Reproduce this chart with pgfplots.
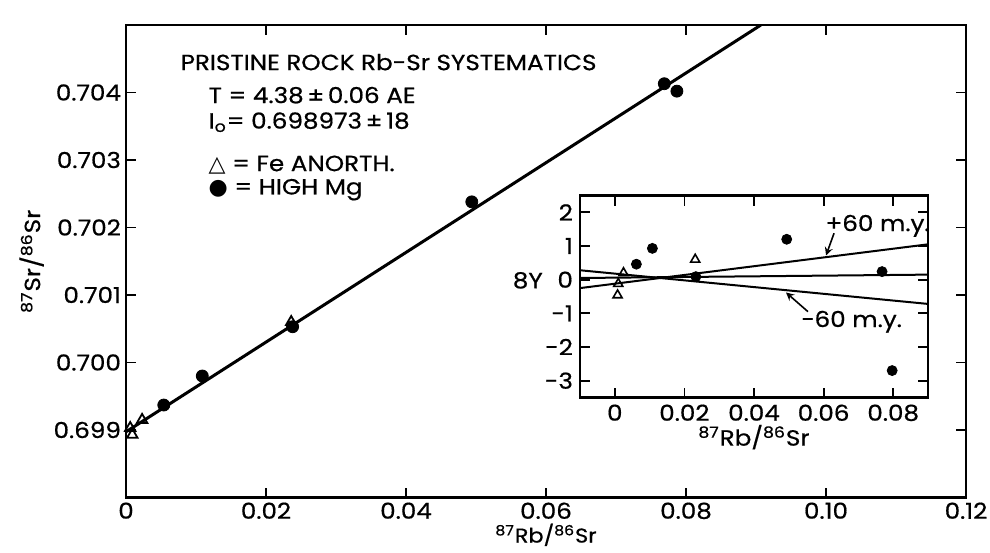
\documentclass[border=0pt]{standalone}
\usepackage{fontspec}
\setmainfont[FakeStretch=1.12, FakeBold=0.6]{Poppins}
\newfontfamily\sym{DejaVu Sans}
\usepackage{pgfplots}
\pgfplotsset{compat=1.18}

\begin{document}
\begin{tikzpicture}[font=\fontsize{11}{13}\selectfont]
\useasboundingbox (-63pt,-27.5pt) rectangle (432pt,248.75pt);
\begin{axis}[
    name=main,
    scale only axis,
    width=420pt, height=236.25pt,
    xmin=0, xmax=0.12, ymin=0.698, ymax=0.705,
    xtick={0,0.02,0.04,0.06,0.08,0.10,0.12},
    xticklabels={0,0.02,0.04,0.06,0.08,0.10,0.12},
    ytick={0.699,0.700,0.701,0.702,0.703,0.704},
    yticklabels={0.699,0.700,0.701,0.702,0.703,0.704},
    tick align=inside,
    major tick length=5pt,
    tick style={black, line width=0.9pt},
    axis line style={line width=1.2pt},
    xticklabel style={yshift=1pt},
    yticklabel style={xshift=1pt},
    xlabel={\textsuperscript{87}Rb/\textsuperscript{86}Sr},
    ylabel={\textsuperscript{87}Sr/\textsuperscript{86}Sr},
    xlabel style={at={(axis description cs:0.5,-0.079)}, anchor=center,
        font=\fontsize{10}{12}\selectfont},
    ylabel style={yshift=-2pt},
]
% isochron
\addplot[black, line width=1.5pt] coordinates {(0,0.698973) (0.0907,0.705)};
% Fe anorthosites
\addplot[only marks, mark=triangle, mark size=3pt, black, line width=0.9pt,
    mark options={fill=white}] coordinates {
    (0.0006,0.69903) (0.0009,0.69893) (0.0023,0.69915) (0.0236,0.70060)
};
% high Mg
\addplot[only marks, mark=*, mark size=3pt, black] coordinates {
    (0.0054,0.69937) (0.0109,0.69980) (0.0238,0.70053) (0.0494,0.70238)
    (0.0769,0.70413) (0.0787,0.70402)
};
\node[anchor=west] at (axis cs:0.0068,0.70445) {PRISTINE ROCK Rb-Sr SYSTEMATICS};
\node[anchor=west] at (axis cs:0.0108,0.70396) {T = 4.38\,±\,0.06 AE};
\node[anchor=west] at (axis cs:0.0108,0.70356) {I\textsubscript{o}= 0.698973\,±\,18};
\node[anchor=west] at (axis cs:0.0108,0.70293) {{\sym △} = Fe ANORTH.};
\node[anchor=west] at (axis cs:0.0108,0.70256) {{\sym ●} = HIGH Mg};
\end{axis}

\begin{axis}[
    name=inset,
    at={(227pt,50pt)}, anchor=south west,
    scale only axis,
    width=174pt, height=101pt,
    xmin=-0.01, xmax=0.09, ymin=-3.5, ymax=2.5,
    axis background/.style={fill=white},
    scaled x ticks=false,
    xtick={0,0.02,0.04,0.06,0.08},
    xticklabels={0,0.02,0.04,0.06,0.08},
    ytick={-3,-2,-1,0,1,2},
    yticklabels={-3,-2,-1,0,1,2},
    tick align=inside,
    major tick length=5pt,
    tick style={black, line width=0.9pt},
    axis line style={line width=1.2pt},
    xlabel={\textsuperscript{87}Rb/\textsuperscript{86}Sr},
    xlabel style={yshift=5pt},
    ylabel={8Y},
    ylabel style={rotate=-90, at={(axis description cs:-0.15,0.58)}, anchor=center},
    clip=false,
]
% reference line and +/-60 m.y. lines
\addplot[black, line width=1pt] coordinates {(-0.01,0.05) (0.09,0.15)};
\addplot[black, line width=1pt] coordinates {(-0.01,-0.25) (0.09,1.05)};
\addplot[black, line width=1pt] coordinates {(-0.01,0.28) (0.09,-0.72)};
\addplot[only marks, mark=triangle, mark size=2.6pt, black, line width=0.8pt,
    mark options={fill=white}] coordinates {
    (0.0025,0.2) (0.0010,-0.12) (0.0008,-0.46) (0.0231,0.6)
};
\addplot[only marks, mark=*, mark size=2.5pt, black] coordinates {
    (0.0062,0.46) (0.0108,0.93) (0.0233,0.09) (0.0494,1.2)
    (0.0768,0.24) (0.0797,-2.7)
};
\node at (axis cs:0.0755,1.6) {+60 m.y.};
\node at (axis cs:0.068,-1.25) {−60 m.y.};
\draw[black, line width=0.8pt, -stealth] (axis cs:0.063,1.38) -- (axis cs:0.0607,0.72);
\draw[black, line width=0.8pt, -stealth] (axis cs:0.0555,-0.95) -- (axis cs:0.0492,-0.38);
\end{axis}
\end{tikzpicture}
\end{document}
